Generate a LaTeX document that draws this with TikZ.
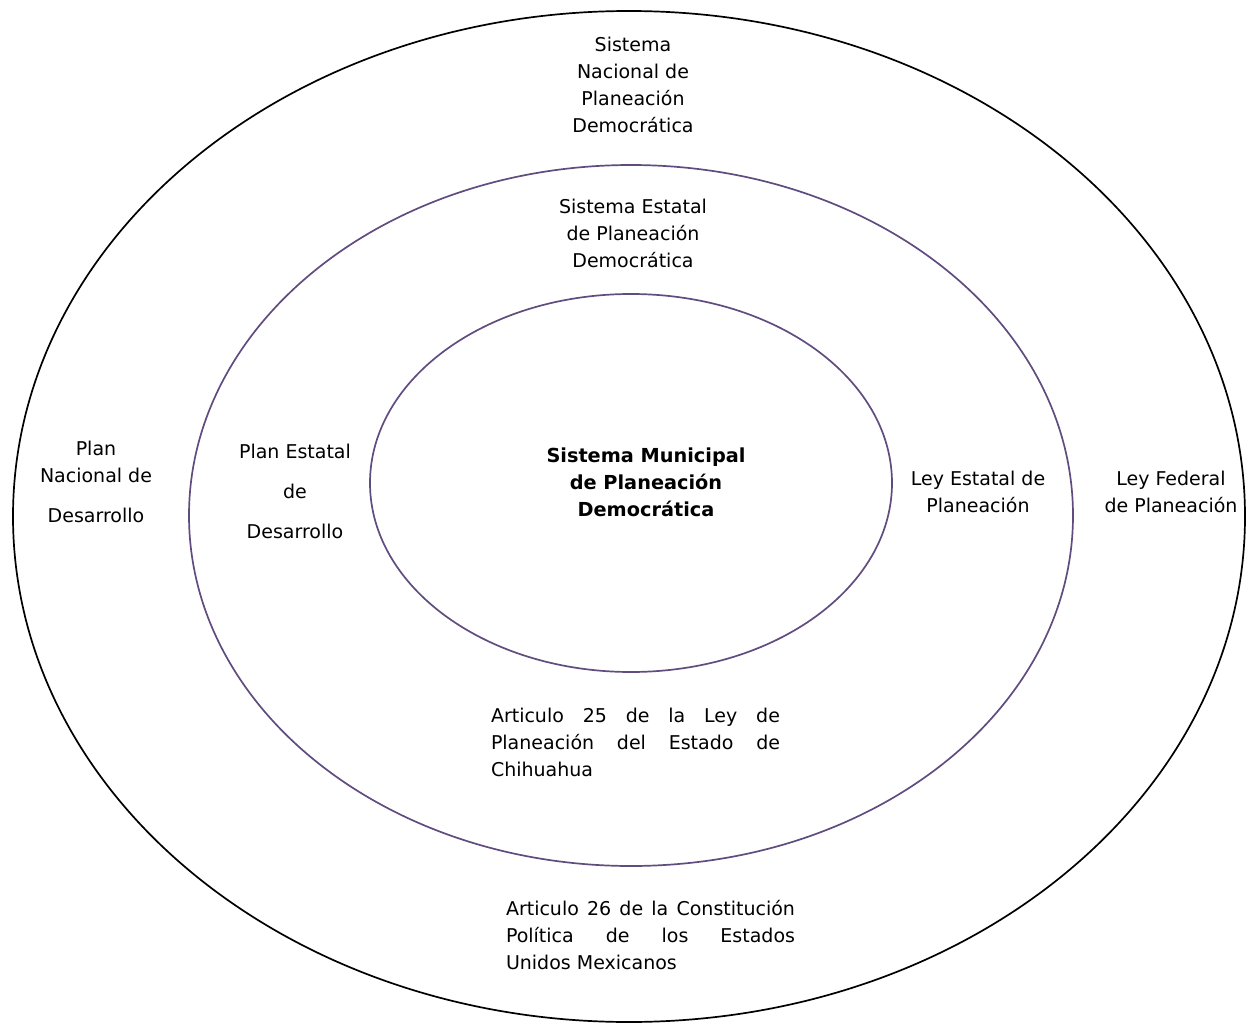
\documentclass[tikz,border=0pt]{standalone}
\usepackage{fontspec}
\setmainfont{DejaVu Sans}
\usepackage{tikz}
\usetikzlibrary{
	shapes.geometric,
	positioning
}
\definecolor{ringpurple}{RGB}{96,76,126}
\tikzset{
	ring/.style={
		ellipse,
		draw,
		line width=1.7pt,
		inner sep=0pt
	},
	txt/.style={
		inner sep=0pt,
		align=center,
		text=black,
		font=\fontsize{19}{27}\selectfont
	},
	jtxt/.style={
		txt,
		text width=289pt,
		align=justify
	}
}

\begin{document}
\begin{tikzpicture}[x=1pt,y=-1pt]
		\useasboundingbox (0,0) rectangle (1248,1025);
		\draw
			node[ring,minimum width=1232pt,minimum height=1011pt] at (629,516.5) (nacional) {}
			node[ring,draw=ringpurple,minimum width=884pt,minimum height=701pt] at (631,515.5) (estatal) {}
			node[ring,draw=ringpurple,minimum width=522pt,minimum height=378pt] at (631,483) (municipal) {}

			node[txt] at (633,85)    (sisnac) {Sistema\\Nacional de\\Planeación\\Democrática}
			node[txt] at (633,233)   (sisest) {Sistema Estatal\\de Planeación\\Democrática}
			node[txt,font=\fontsize{19.3}{27}\selectfont\bfseries] at (646,482) (sismun) {Sistema Municipal\\de Planeación\\Democrática}
			node[txt] at (96,482)    (pnd)    {Plan\\Nacional de\\[13pt]Desarrollo}
			node[txt] at (295,491)   (ped)    {Plan Estatal\\[13pt]de\\[13pt]Desarrollo}
			node[txt] at (978,491.5) (lep)    {Ley Estatal de\\Planeación}
			node[txt] at (1171,491.5) (lfp)   {Ley Federal\\de Planeación}
			node[jtxt] at (635.5,742) (art25) {Articulo 25 de la Ley de\linebreak Planeación del Estado de\linebreak Chihuahua}
			node[jtxt] at (650.5,935) (art26) {Articulo 26 de la Constitución\linebreak Política de los Estados\linebreak Unidos Mexicanos}
		;
	\end{tikzpicture}
\end{document}
